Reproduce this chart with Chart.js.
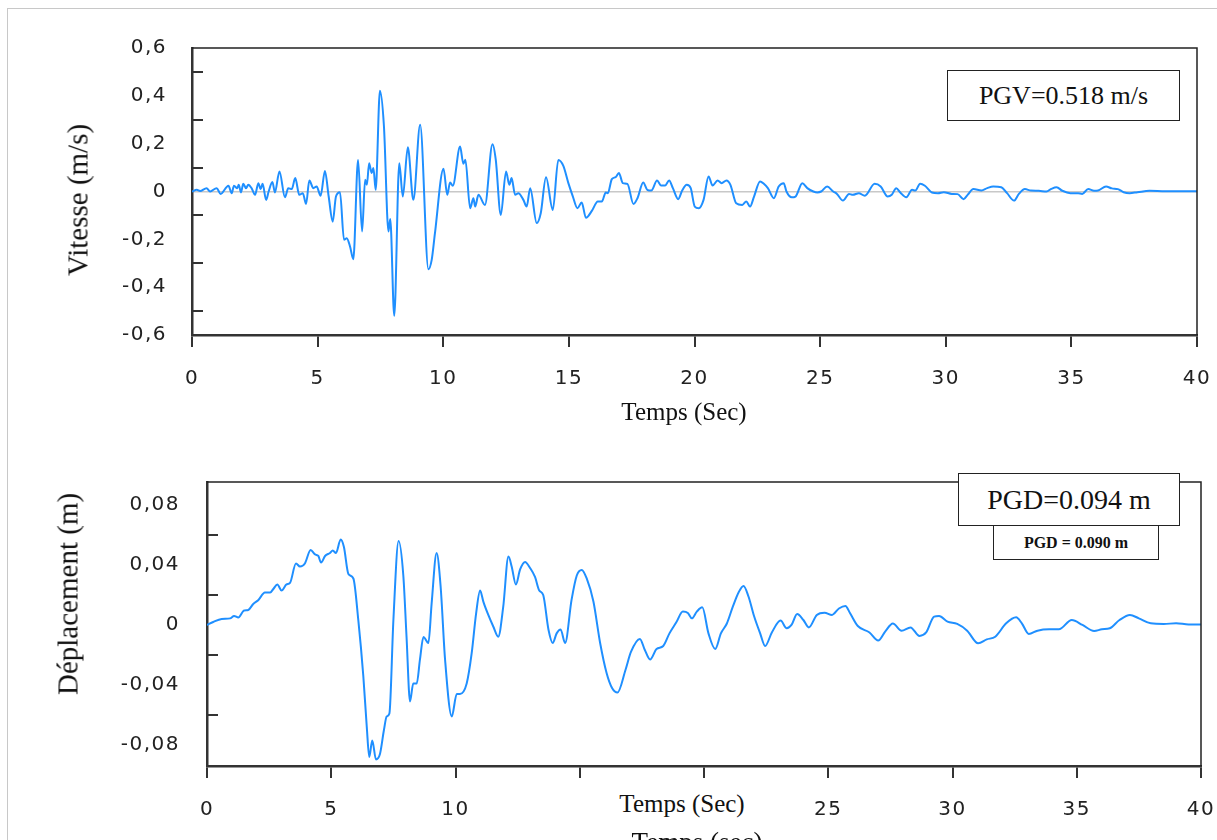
<!DOCTYPE html>
<html>
<head>
<meta charset="utf-8">
<script src="https://cdn.jsdelivr.net/npm/chart.js@4.4.1/dist/chart.umd.min.js"></script>
<style>
body{margin:0;background:#fff;width:1217px;height:840px;overflow:hidden;position:relative;font-family:"Liberation Serif",serif;}
canvas{position:absolute;left:0;}
.pg{position:absolute;left:7px;top:8px;right:0;bottom:0;border-left:1px solid #c8c8c8;border-top:1px solid #c8c8c8;}
.lbl{position:absolute;white-space:nowrap;color:#111;line-height:1;transform:translate(-50%,-50%);}
.rot{transform:translate(-50%,-50%) rotate(-90deg);}
.box{position:absolute;border:1.5px solid #222;background:#fff;display:flex;align-items:center;justify-content:center;box-sizing:border-box;color:#111;}
</style>
</head>
<body>
<div class="pg"></div>
<canvas id="chart-vitesse" width="1217" height="440" style="top:0"></canvas>
<canvas id="chart-depl" width="1217" height="400" style="top:440px"></canvas>

<div class="lbl rot" style="left:78px;top:200px;font-size:29px">Vitesse (m/s)</div>
<div class="lbl" style="left:684px;top:411px;font-size:25px">Temps (Sec)</div>
<div class="box" style="left:947px;top:70px;width:233px;height:51px;font-size:26px">PGV=0.518 m/s</div>

<div class="lbl rot" style="left:68px;top:594px;font-size:29px">Déplacement (m)</div>
<div class="lbl" style="left:697px;top:842px;font-size:27px">Temps (sec)</div>
<div class="lbl" style="left:683px;top:803px;font-size:25px;background:#fff;padding:6px 68px 6px 66px">Temps (Sec)</div>
<div class="box" style="left:958px;top:473px;width:222px;height:53px;font-size:28px">PGD=0.094 m</div>
<div class="box" style="left:993px;top:526px;width:166px;height:34px;font-size:16px;font-weight:bold;border-top:none">PGD = 0.090 m</div>

<script>
// velocity record (m/s)
const velTime = [0, 0.19, 0.32, 0.58, 0.72, 0.98, 1.14, 1.45, 1.58, 1.67, 1.80, 1.86, 1.95, 2.04, 2.15, 2.24, 2.37, 2.51, 2.64, 2.73, 2.81, 2.95, 3.05, 3.2, 3.3, 3.48, 3.70, 3.83, 3.97, 4.11, 4.27, 4.41, 4.54, 4.67, 4.83, 4.96, 5.12, 5.29, 5.44, 5.60, 5.73, 5.89, 6.05, 6.16, 6.29, 6.42, 6.61, 6.77, 6.89, 6.96, 7.05, 7.15, 7.22, 7.31, 7.48, 7.64, 7.82, 7.89, 8.05, 8.25, 8.39, 8.59, 8.81, 9.08, 9.41, 9.54, 9.67, 10.01, 10.16, 10.27, 10.38, 10.67, 10.80, 10.88, 11.07, 11.2, 11.27, 11.4, 11.66, 11.96, 12.09, 12.29, 12.5, 12.63, 12.72, 12.86, 12.99, 13.19, 13.32, 13.46, 13.72, 13.88, 14.09, 14.36, 14.58, 14.78, 14.98, 15.15, 15.34, 15.51, 15.68, 15.92, 16.15, 16.31, 16.47, 16.55, 16.71, 16.86, 16.99, 17.15, 17.33, 17.57, 17.73, 17.96, 18.12, 18.28, 18.51, 18.67, 18.83, 18.99, 19.14, 19.35, 19.51, 19.69, 19.85, 20.01, 20.17, 20.36, 20.56, 20.72, 20.92, 21.08, 21.27, 21.43, 21.66, 21.90, 22.06, 22.21, 22.37, 22.61, 22.76, 22.92, 23.16, 23.35, 23.55, 23.66, 23.87, 24.02, 24.29, 24.49, 24.73, 24.89, 25.04, 25.28, 25.52, 25.67, 25.91, 26.15, 26.30, 26.54, 26.78, 27.17, 27.41, 27.69, 27.85, 28.03, 28.19, 28.43, 28.66, 28.79, 28.98, 29.17, 29.45, 29.69, 29.92, 30.24, 30.47, 30.71, 30.87, 31.10, 31.42, 31.65, 31.89, 32.21, 32.44, 32.72, 32.91, 33.15, 33.39, 33.70, 34.01, 34.20, 34.41, 34.64, 34.96, 35.27, 35.43, 35.67, 35.90, 36.06, 36.38, 36.61, 36.85, 37.08, 37.32, 37.63, 38.11, 38.74, 39.37, 40];
const velValues = [0, 0.007, 0.002, 0.014, 0, 0.014, -0.01, 0.024, -0.007, 0.024, 0.014, 0.028, -0.004, 0.032, 0.014, 0.028, 0.014, -0.014, 0.035, 0.010, 0.032, -0.035, 0, 0.04, -0.004, 0.084, -0.024, 0.014, 0.010, 0.056, -0.014, -0.007, -0.052, 0.046, 0.014, 0.021, -0.018, 0.086, -0.021, -0.126, -0.021, -0.003, -0.202, -0.195, -0.23, -0.283, 0.132, -0.167, 0.049, 0.028, 0.118, 0.077, 0.098, 0.007, 0.421, 0.272, -0.167, -0.115, -0.52, 0.118, -0.021, 0.185, -0.035, 0.279, -0.325, -0.286, -0.174, 0.095, -0.014, 0.038, 0.024, 0.188, 0.116, 0.133, -0.07, -0.028, -0.063, -0.014, -0.056, 0.198, 0.133, -0.098, 0.084, 0.028, 0.056, -0.014, -0.007, -0.035, -0.063, 0.014, -0.132, -0.091, 0.06, -0.077, 0.132, 0.107, 0.035, -0.018, -0.07, -0.046, -0.11, -0.08, -0.042, -0.042, -0.004, -0.007, 0.052, 0.060, 0.077, 0.035, 0.032, -0.052, -0.028, 0.038, 0.007, 0.004, 0.046, 0.025, 0.025, 0.046, 0.014, -0.032, 0.004, 0.028, 0.014, -0.063, -0.07, -0.035, 0.063, 0.025, 0.046, 0.035, 0.046, 0.028, -0.049, -0.056, -0.042, -0.063, -0.021, 0.042, 0.032, 0.014, -0.028, 0.021, 0.035, 0, -0.024, -0.021, 0.035, 0.014, 0, -0.004, 0, 0.021, 0, -0.010, -0.038, -0.010, -0.014, -0.007, -0.018, 0.032, 0.021, -0.021, -0.014, 0.014, -0.004, -0.024, 0.007, 0.004, 0.032, 0.024, -0.004, -0.007, -0.003, -0.010, -0.011, -0.032, -0.014, 0.010, 0.004, 0.014, 0.021, 0.018, -0.007, -0.038, -0.010, 0.010, 0.004, 0.003, 0, 0.011, 0.018, 0.003, -0.007, -0.007, -0.010, 0.010, 0.003, 0.004, 0.021, 0.013, 0.010, -0.003, -0.007, -0.003, 0.003, 0.001, 0.001, 0.001];

// displacement record (m)
const deplTime = [0, 0.25, 0.59, 0.93, 1.09, 1.26, 1.49, 1.66, 1.86, 2.07, 2.33, 2.54, 2.67, 2.83, 3.0, 3.2, 3.34, 3.58, 3.74, 3.94, 4.17, 4.35, 4.48, 4.59, 4.75, 4.95, 5.06, 5.19, 5.38, 5.51, 5.69, 5.89, 6.09, 6.29, 6.43, 6.53, 6.65, 6.80, 6.96, 7.12, 7.23, 7.34, 7.50, 7.71, 7.90, 8.03, 8.17, 8.30, 8.44, 8.57, 8.71, 8.91, 9.04, 9.24, 9.40, 9.58, 9.85, 10.05, 10.18, 10.45, 10.65, 10.83, 10.99, 11.12, 11.32, 11.52, 11.72, 11.92, 12.13, 12.26, 12.43, 12.6, 12.8, 13.0, 13.2, 13.37, 13.53, 13.74, 13.91, 14.07, 14.23, 14.41, 14.67, 14.88, 15.08, 15.28, 15.55, 15.82, 16.08, 16.30, 16.52, 16.84, 17.06, 17.42, 17.62, 17.83, 18.09, 18.36, 18.61, 18.88, 19.15, 19.35, 19.51, 19.71, 19.93, 20.18, 20.45, 20.68, 20.92, 21.16, 21.4, 21.59, 21.79, 22.02, 22.26, 22.46, 22.73, 23.08, 23.33, 23.52, 23.75, 24.0, 24.22, 24.54, 24.85, 25.15, 25.43, 25.69, 25.88, 26.19, 26.66, 27.01, 27.29, 27.6, 27.95, 28.31, 28.67, 28.94, 29.26, 29.46, 29.8, 30.19, 30.59, 31.03, 31.38, 31.72, 32.16, 32.56, 32.79, 33.07, 33.42, 33.89, 34.28, 34.8, 35.23, 35.7, 36.01, 36.33, 36.72, 37.14, 37.5, 37.98, 38.5, 39.0, 39.5, 40];
const deplValues = [0, 0.002, 0.004, 0.0044, 0.006, 0.005, 0.0096, 0.0100, 0.014, 0.0167, 0.0216, 0.0216, 0.024, 0.027, 0.023, 0.027, 0.028, 0.041, 0.039, 0.041, 0.05, 0.047, 0.046, 0.0416, 0.046, 0.048, 0.0496, 0.048, 0.057, 0.052, 0.034, 0.031, 0.003, -0.034, -0.068, -0.088, -0.077, -0.0896, -0.086, -0.07, -0.061, -0.059, 0.003, 0.056, 0.033, -0.008, -0.051, -0.039, -0.039, -0.023, -0.008, -0.012, 0.0144, 0.048, 0.026, -0.023, -0.061, -0.046, -0.046, -0.039, -0.019, 0.0078, 0.023, 0.0156, 0.0067, -0.001, -0.0078, 0.012, 0.0456, 0.039, 0.027, 0.037, 0.042, 0.038, 0.032, 0.023, 0.02, -0.003, -0.012, -0.0056, -0.003, -0.012, 0.0167, 0.033, 0.0367, 0.031, 0.0156, -0.012, -0.032, -0.042, -0.045, -0.03, -0.018, -0.0093, -0.0167, -0.023, -0.016, -0.014, -0.0056, 0.0016, 0.0089, 0.008, 0.0044, 0.0089, 0.0118, -0.0056, -0.016, -0.0056, 0.001, 0.0122, 0.022, 0.026, 0.019, 0.0056, -0.0056, -0.014, -0.005, 0.0029, -0.0022, 0, 0.0073, 0.0033, -0.0016, 0.0067, 0.0082, 0.0067, 0.011, 0.0127, 0.0078, -0.0007, -0.005, -0.0104, -0.0044, 0.001, -0.0038, -0.0016, -0.0073, -0.005, 0.0056, 0.006, 0.0022, 0.0007, -0.0038, -0.0122, -0.0096, -0.0078, 0.0011, 0.0051, 0.0011, -0.006, -0.0038, -0.0029, -0.0029, 0.0033, 0, -0.004, -0.0029, -0.0022, 0.0033, 0.0067, 0.0044, 0.0011, 0.0007, 0.0011, 0.0004, 0.0004];

// axis ticks
const timeTicks = [0, 5, 10, 15, 20, 25, 30, 35, 40];
const velTicks = [-0.6, -0.4, -0.2, 0, 0.2, 0.4, 0.6];
const velMinor = [-0.5, -0.3, -0.1, 0.1, 0.3, 0.5];
const deplTicks = [-0.08, -0.04, 0, 0.04, 0.08];
const deplMinor = [-0.06, -0.02, 0.02, 0.06];

const BLUE = '#1f8fff';
const AXIS = '#333';

// wide tick lettering like the original figure
const spacingPlugin = {
  id: 'spacing',
  beforeUpdate(chart) { chart.ctx.letterSpacing = '1.5px'; },
  beforeDraw(chart) { chart.ctx.letterSpacing = '1.5px'; }
};

// top + right frame lines, and the small inward ticks on the y axis
const framePlugin = {
  id: 'frame',
  afterDraw(chart, args, opts) {
    const {ctx, chartArea: a} = chart;
    const y = chart.scales.y;
    ctx.save();
    ctx.strokeStyle = '#222';
    ctx.lineWidth = 1.5;
    ctx.beginPath();
    ctx.moveTo(a.left, a.top);
    ctx.lineTo(a.right, a.top);
    ctx.lineTo(a.right, a.bottom);
    ctx.stroke();
    ctx.strokeStyle = AXIS;
    ctx.lineWidth = 2;
    opts.minor.forEach(v => {
      const py = Math.round(y.getPixelForValue(v));
      ctx.beginPath();
      ctx.moveTo(a.left, py);
      ctx.lineTo(a.left + 11, py);
      ctx.stroke();
    });
    ctx.restore();
  }
};

function makeChart(el, cfg) {
  const pts = cfg.time.map((t, i) => ({x: t, y: cfg.values[i]}));
  return new Chart(el, {
    type: 'line',
    data: {
      datasets: [{
        data: pts,
        borderColor: BLUE,
        borderWidth: 2,
        pointRadius: 0,
        fill: false,
        cubicInterpolationMode: 'monotone'
      }]
    },
    options: {
      responsive: false,
      animation: false,
      devicePixelRatio: 1,
      layout: {padding: {left: 0, top: cfg.top, right: cfg.right, bottom: 0}},
      plugins: {
        legend: {display: false},
        tooltip: {enabled: false},
        frame: {minor: cfg.minor}
      },
      scales: {
        x: {
          type: 'linear',
          min: 0,
          max: 40,
          afterFit: (s) => {
            s.height = cfg.xHeight;
            s.paddingLeft = 0;
            s.paddingRight = 0;
          },
          afterBuildTicks: (s) => { s.ticks = timeTicks.map(v => ({value: v})); },
          border: {display: true, color: AXIS, width: 2.5},
          grid: {drawOnChartArea: false, drawTicks: true, tickLength: 12, color: AXIS, lineWidth: 2},
          ticks: {
            padding: 20,
            color: '#222',
            font: {family: 'DejaVu Sans', size: 20},
            maxRotation: 0,
            callback: (v) => String(v)
          }
        },
        y: {
          min: cfg.min,
          max: cfg.max,
          afterFit: (s) => { s.width = cfg.yWidth; },
          afterBuildTicks: (s) => { s.ticks = cfg.ticks.map(v => ({value: v})); },
          border: {display: true, color: AXIS, width: 2.5},
          grid: {
            drawTicks: false,
            lineWidth: 1.5,
            color: (c) => (cfg.zeroLine && c.tick && c.tick.value === 0) ? '#c8c8c8' : 'rgba(0,0,0,0)'
          },
          ticks: {
            padding: cfg.yPad,
            color: '#222',
            font: {family: 'DejaVu Sans', size: 20},
            callback: (v) => v === 0 ? '0' : v.toFixed(cfg.dec).replace('.', ',')
          }
        }
      }
    },
    plugins: [spacingPlugin, framePlugin]
  });
}

makeChart(document.getElementById('chart-vitesse'), {
  time: velTime, values: velValues, ticks: velTicks, minor: velMinor,
  min: -0.6, max: 0.6, dec: 1, zeroLine: true,
  top: 48, right: 20, yWidth: 192, xHeight: 105, yPad: 25
});

makeChart(document.getElementById('chart-depl'), {
  time: deplTime, values: deplValues, ticks: deplTicks, minor: deplMinor,
  min: -0.094, max: 0.0953, dec: 2, zeroLine: false,
  top: 42, right: 16, yWidth: 207, xHeight: 74, yPad: 27
});
</script>
</body>
</html>
